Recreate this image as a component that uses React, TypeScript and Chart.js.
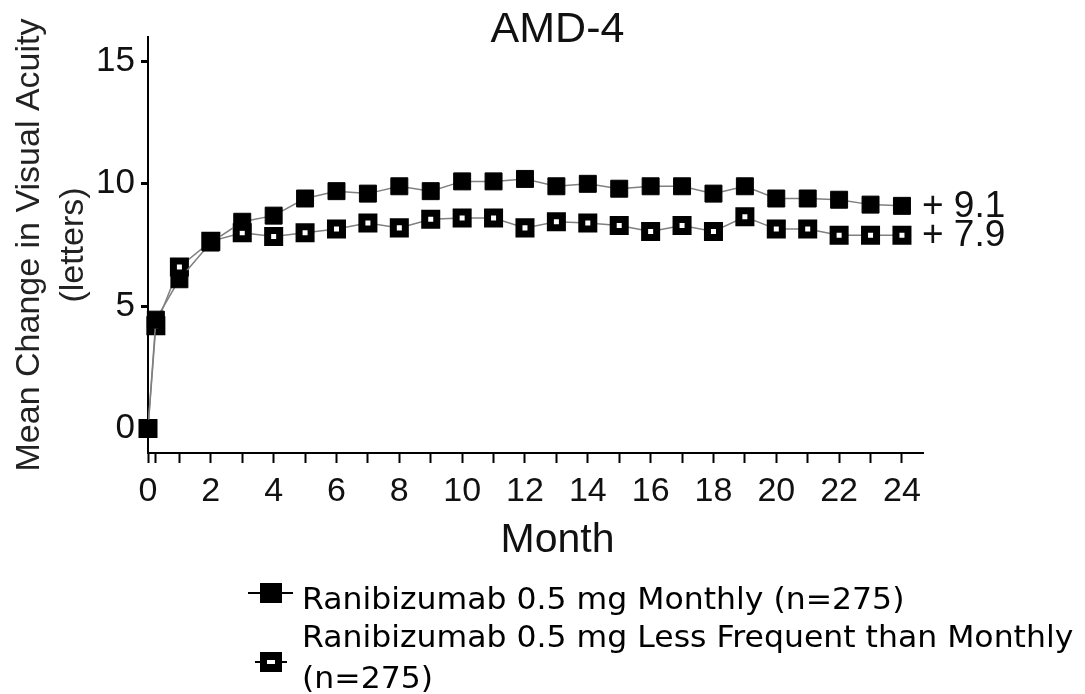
import React, { useEffect, useRef } from 'react';
import { Chart, registerables } from 'chart.js';

Chart.register(...registerables);

// ---- Data ----
const chartTitle = 'AMD-4';
const xAxisTitle = 'Month';
const yAxisTitle = ['Mean Change in Visual Acuity', '(letters)'];

// visit times in months (0.25 = week 1)
const months = [0, 0.25, 1, 2, 3, 4, 5, 6, 7, 8, 9, 10, 11, 12, 13, 14, 15, 16, 17, 18, 19, 20, 21, 22, 23, 24];

const seriesNames = [
  'Ranibizumab 0.5 mg Monthly (n=275)',
  'Ranibizumab 0.5 mg Less Frequent than Monthly (n=275)',
];
const legendLines2 = ['Ranibizumab 0.5 mg Less Frequent than Monthly', '(n=275)'];

const monthlyValues = [0, 4.45, 6.1, 7.6, 8.45, 8.7, 9.4, 9.7, 9.6, 9.9, 9.7, 10.1, 10.1, 10.2, 9.9, 10.0, 9.8, 9.9, 9.9, 9.6, 9.9, 9.4, 9.4, 9.35, 9.15, 9.1];
const lessFrequentValues = [0, 4.2, 6.6, 7.65, 8.0, 7.85, 8.0, 8.15, 8.4, 8.2, 8.55, 8.6, 8.6, 8.2, 8.45, 8.4, 8.3, 8.05, 8.3, 8.05, 8.65, 8.15, 8.15, 7.9, 7.9, 7.9];

const endLabels = ['+ 9.1', '+ 7.9'];

const xTickMarks = [0, 0.25, 1, 2, 3, 4, 5, 6, 7, 8, 9, 10, 11, 12, 13, 14, 15, 16, 17, 18, 19, 20, 21, 22, 23, 24];
const xTickLabels = [0, 2, 4, 6, 8, 10, 12, 14, 16, 18, 20, 22, 24];
const yTicks = [0, 5, 10, 15];

const ARIAL = '"Liberation Sans", Arial, sans-serif';
const DEJAVU = '"DejaVu Sans", sans-serif';

function stretchedText(ctx: CanvasRenderingContext2D, text: string, x: number, y: number, sx: number) {
  ctx.save();
  ctx.translate(x, y);
  ctx.scale(sx, 1);
  ctx.fillText(text, 0, 0);
  ctx.restore();
}

const textPlugin = {
  id: 'extraText',
  afterDraw(chart: any) {
    const { ctx, chartArea } = chart;
    const cx = (chartArea.left + chartArea.right) / 2 + 22;
    ctx.save();
    ctx.fillStyle = '#111';
    ctx.textAlign = 'center';
    ctx.textBaseline = 'middle';
    // title
    ctx.font = `43px ${ARIAL}`;
    ctx.fillText(chartTitle, cx, 30);
    // x title
    ctx.font = `41px ${ARIAL}`;
    ctx.fillText(xAxisTitle, cx, 541);

    // end labels
    ctx.font = `37px ${ARIAL}`;
    ctx.textAlign = 'left';
    chart.data.datasets.forEach((ds: any, i: number) => {
      const meta = chart.getDatasetMeta(i);
      const last = meta.data[meta.data.length - 1];
      ctx.fillText(endLabels[i], last.x + 20, last.y + 1);
    });

    // legend
    ctx.fillStyle = '#000';
    ctx.strokeStyle = '#000';
    ctx.lineWidth = 2;
    // item 1
    ctx.beginPath();
    ctx.moveTo(248, 593);
    ctx.lineTo(293, 593);
    ctx.stroke();
    ctx.fillRect(271 - 11, 593 - 10, 22, 20);
    // item 2
    ctx.beginPath();
    ctx.moveTo(255, 662);
    ctx.lineTo(287, 662);
    ctx.stroke();
    ctx.fillRect(271 - 11, 662 - 10, 22, 20);
    ctx.fillStyle = '#fff';
    ctx.fillRect(271 - 4, 662 - 2, 8, 4);

    ctx.fillStyle = '#000';
    ctx.font = `30px ${DEJAVU}`;
    ctx.textAlign = 'left';
    stretchedText(ctx, seriesNames[0], 302, 601, 1.05);
    stretchedText(ctx, legendLines2[0], 302, 639, 1.05);
    stretchedText(ctx, legendLines2[1], 302, 680, 1.05);
    ctx.restore();
  },
};

export default function App() {
  const ref = useRef<HTMLCanvasElement>(null);

  useEffect(() => {
    const canvas = ref.current;
    if (!canvas) return;
    const chart = new Chart(canvas, {
      type: 'line',
      data: {
        datasets: [
          {
            label: seriesNames[0],
            data: months.map((m, i) => ({ x: m, y: monthlyValues[i] })),
            borderColor: '#808080',
            borderWidth: 1.5,
            pointStyle: 'rect',
            pointRadius: 12,
            pointBackgroundColor: '#000',
            pointBorderColor: '#000',
            pointBorderWidth: 1,
            clip: false as any,
          },
          {
            label: seriesNames[1],
            data: months.map((m, i) => ({ x: m, y: lessFrequentValues[i] })),
            borderColor: '#808080',
            borderWidth: 1.5,
            pointStyle: 'rect',
            pointRadius: 8.5,
            pointBackgroundColor: '#fff',
            pointBorderColor: '#000',
            pointBorderWidth: 7,
            clip: false as any,
          },
        ],
      },
      options: {
        animation: false,
        responsive: true,
        maintainAspectRatio: false,
        layout: { padding: { top: 37, right: 162, bottom: 141, left: 0 } },
        plugins: {
          legend: { display: false },
          tooltip: { enabled: false },
          title: { display: false },
        },
        scales: {
          x: {
            type: 'linear',
            min: 0,
            max: 24.67,
            afterBuildTicks: (s: any) => {
              s.ticks = xTickMarks.map((v) => ({ value: v }));
            },
            afterFit: (s: any) => {
              s.height = 100;
            },
            grid: {
              drawOnChartArea: false,
              drawTicks: true,
              tickLength: 10,
              tickWidth: 2,
              tickColor: '#000',
            },
            border: { display: true, color: '#000', width: 2 },
            ticks: {
              autoSkip: false,
              maxRotation: 0,
              minRotation: 0,
              padding: 8,
              color: '#111',
              font: { family: ARIAL, size: 34 },
              callback: (v: any) => (xTickLabels.includes(Number(v)) ? String(v) : ''),
            },
          },
          y: {
            type: 'linear',
            min: -1,
            max: 16,
            afterBuildTicks: (s: any) => {
              s.ticks = yTicks.map((v) => ({ value: v }));
            },
            afterFit: (s: any) => {
              s.width = 148;
            },
            grid: {
              drawOnChartArea: false,
              drawTicks: true,
              tickLength: 7,
              tickWidth: 3,
              tickColor: '#000',
            },
            border: { display: true, color: '#000', width: 2 },
            ticks: {
              padding: 6,
              color: '#111',
              font: { family: ARIAL, size: 35 },
            },
            title: {
              display: true,
              text: yAxisTitle,
              color: '#222',
              font: { family: ARIAL, size: 34, lineHeight: 1.27 },
              padding: { top: 8.5, bottom: 0 },
            },
          },
        },
      },
      plugins: [textPlugin],
    });
    return () => chart.destroy();
  }, []);

  return (
    <div style={{ position: 'absolute', left: 0, top: 0, width: 1085, height: 694, background: '#fff' }}>
      <canvas ref={ref} />
    </div>
  );
}
